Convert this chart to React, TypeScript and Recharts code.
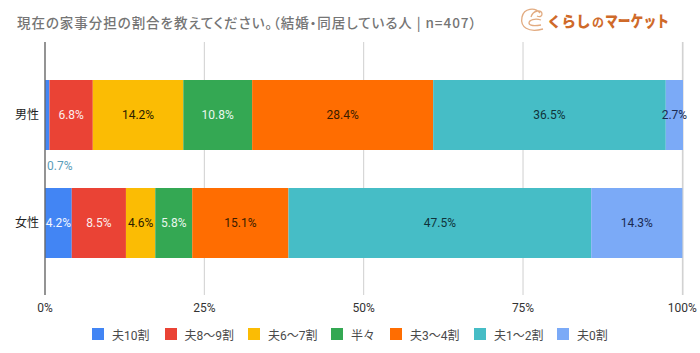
import React from "react";
import { BarChart, Bar, XAxis, YAxis, CartesianGrid, LabelList, Legend } from "recharts";

const categories = ["男性", "女性"];
const seriesNames = ["夫10割", "夫8〜9割", "夫6〜7割", "半々", "夫3〜4割", "夫1〜2割", "夫0割"];
const maleValues = [0.7, 6.8, 14.2, 10.8, 28.4, 36.5, 2.7];
const femaleValues = [4.2, 8.5, 4.6, 5.8, 15.1, 47.5, 14.3];
const xTicks = [0, 25, 50, 75, 100];
const colors = ["#4285f4", "#ea4335", "#fbbc04", "#34a853", "#ff6d01", "#46bdc6", "#7baaf7"];
const labelColors = ["#f2f6ff", "#fbeeee", "#2a2000", "#eaf7ee", "#3a1c00", "#10333a", "#1a2a50"];
const legendPitch = [72.5, 83.5, 83, 59, 84, 83, 60];

const data = categories.map((name, c) => {
  const row: Record<string, string | number> = { name };
  seriesNames.forEach((s, i) => {
    row[s] = (c === 0 ? maleValues : femaleValues)[i];
  });
  return row;
});

const SANS = "Roboto, 'Noto Sans CJK JP', sans-serif";
const JP = "'Noto Sans CJK JP', sans-serif";

const makeLabel = (i: number) => (props: any) => {
  const { x, y, width, height, value } = props;
  const small = width < 15;
  return (
    <text
      x={small ? x + 2 : x + width / 2}
      y={small ? y + height + 16 : y + height / 2}
      textAnchor={small ? "start" : "middle"}
      dominantBaseline="central"
      fontFamily={SANS}
      fontSize={12}
      fill={small ? "#5b9cb8" : labelColors[i]}
    >
      {value}%
    </text>
  );
};

const LegendContent = () => (
  <div style={{ display: "flex", paddingLeft: 92, paddingTop: 2, fontFamily: SANS, fontSize: 12, color: "#4a4a4a", height: 14, alignItems: "center" }}>
    {seriesNames.map((s, i) => (
      <div key={s} style={{ display: "flex", alignItems: "center", width: legendPitch[i], flex: "none" }}>
        <span style={{ width: 12, height: 12, background: colors[i], marginRight: 8, display: "inline-block" }} />
        <span>{s}</span>
      </div>
    ))}
  </div>
);

export default function App() {
  return (
    <div style={{ position: "absolute", left: 0, top: 0, width: 700, height: 353, background: "#fff", overflow: "hidden" }}>
      <BarChart
        width={700}
        height={353}
        data={data}
        layout="vertical"
        barSize={70}
        margin={{ top: 42, right: 17, bottom: 0, left: 0 }}
      >
        <CartesianGrid horizontal={false} stroke="#cfcfcf" />
        <XAxis
          type="number"
          domain={[0, 100]}
          ticks={xTicks}
          tickFormatter={(v: number) => `${v}%`}
          axisLine={false}
          tickLine={false}
          height={28}
          tickMargin={2}
          tick={{ fontFamily: SANS, fontSize: 12, fill: "#333" }}
        />
        <YAxis
          type="category"
          dataKey="name"
          width={45}
          padding={{ top: 19, bottom: 18 }}
          axisLine={{ stroke: "#666", strokeWidth: 1.3 }}
          tickLine={false}
          tickMargin={0}
          tick={{ fontFamily: SANS, fontSize: 12, fill: "#222" }}
        />
        <Legend
          verticalAlign="bottom"
          height={30}
          content={<LegendContent />}
          wrapperStyle={{ left: 0, width: 700, bottom: -2 }}
        />
        {seriesNames.map((s, i) => (
          <Bar key={s} dataKey={s} stackId="a" fill={colors[i]} isAnimationActive={false}>
            <LabelList dataKey={s} content={makeLabel(i)} />
          </Bar>
        ))}
      </BarChart>
      <svg width={700} height={40} style={{ position: "absolute", left: 0, top: 0 }}>
        <text
          x={17}
          y={28}
          fontFamily={JP}
          fontSize={13.5}
          fontWeight={500}
          fill="#757575"
          letterSpacing={0.95}
          style={{ fontFeatureSettings: "'palt'" }}
        >
          現在の家事分担の割合を教えてください。（結婚・同居している人 | n=407）
        </text>
        <path
          d="M540 13 C535 7 524 8 522 17 C520 27 528 33 543 29 M541 20 C535 18 529 20 529 23 C529 26 535 26 541 25 M531 17 C533 10 542 9 542 14 C542 17 539 17 537 16"
          fill="none"
          stroke="#e2ab80"
          strokeWidth={1.3}
        />
        <text x={547} y={27} fontFamily={JP} fontSize={14.5} fontWeight={900} fill="#cf6a2a">
          くらし
        </text>
        <text x={592} y={27} fontFamily={JP} fontSize={12} fontWeight={700} fill="#cf6a2a">
          の
        </text>
        <text x={605} y={27} fontFamily={JP} fontSize={16} fontWeight={900} fill="#cf6a2a" textLength={64} lengthAdjust="spacingAndGlyphs">
          マーケット
        </text>
      </svg>
    </div>
  );
}
